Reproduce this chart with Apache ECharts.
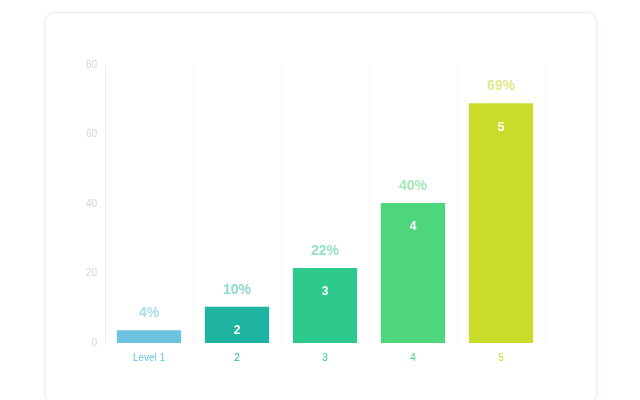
<!DOCTYPE html>
<html><head><meta charset="utf-8">
<script src="https://cdn.jsdelivr.net/npm/echarts@6/dist/echarts.min.js"></script>
<style>
html,body{margin:0;padding:0;background:#fff;width:640px;height:400px;overflow:hidden;font-family:"Noto Sans",sans-serif;}
#card{position:absolute;left:45px;top:12px;width:550px;height:390px;border:1px solid #eee;border-radius:10px;box-shadow:0 1px 6px rgba(0,0,0,0.06);background:#fff;}
#chart{position:absolute;left:0;top:0;width:640px;height:400px;}
</style></head>
<body>
<div id="card"></div>
<div id="chart"></div>
<script>
const categories = ['Level 1', '2', '3', '4', '5'];
const values = [3.7, 10.4, 21.6, 40.3, 69];
const valueLabels = ['4%', '10%', '22%', '40%', '69%'];
const innerLabels = ['', '2', '3', '4', '5'];
const yTicks = [0, 20, 40, 60, 80];
const colors = ['#6cc3e0', '#1fb4a2', '#2ec98c', '#4dd67b', '#c9dc2a'];
const labelColors = ['#a9dced', '#8fd8cf', '#98e2c4', '#a3e9b8', '#dde98a'];

const chart = echarts.init(document.getElementById('chart'));
chart.setOption({
  animation: false,
  grid: { left: 105, right: 95, top: 65, bottom: 57 },
  xAxis: {
    type: 'category', data: categories,
    axisLine: { show: false }, axisTick: { show: false },
    splitLine: { show: true, lineStyle: { color: '#f6f6f6' } },
    axisLabel: {
      fontSize: 10, margin: 10,
      color: function (v, i) { return colors[i]; }
    }
  },
  yAxis: {
    type: 'value', min: yTicks[0], max: yTicks[yTicks.length - 1], interval: 20,
    axisLine: { show: true, lineStyle: { color: '#eeeeee' } },
    axisTick: { show: false }, splitLine: { show: false },
    axisLabel: { color: '#d6d6d6', fontSize: 10, margin: 8 }
  },
  series: [{
    type: 'bar', barWidth: '73%',
    data: values.map((v, i) => ({ value: v, itemStyle: { color: colors[i] },
      label: { color: labelColors[i] } })),
    label: { show: true, position: 'top', fontSize: 14, fontWeight: 'bold', distance: 10,
      formatter: p => valueLabels[p.dataIndex] }
  }, {
    type: 'bar', barWidth: '73%', barGap: '-100%', silent: true,
    itemStyle: { color: 'rgba(0,0,0,0)' },
    data: values,
    label: { show: true, position: 'insideTop', distance: 18, color: '#ffffff',
      fontSize: 12, fontWeight: 'bold',
      formatter: p => innerLabels[p.dataIndex] }
  }]
});
</script>
</body></html>
